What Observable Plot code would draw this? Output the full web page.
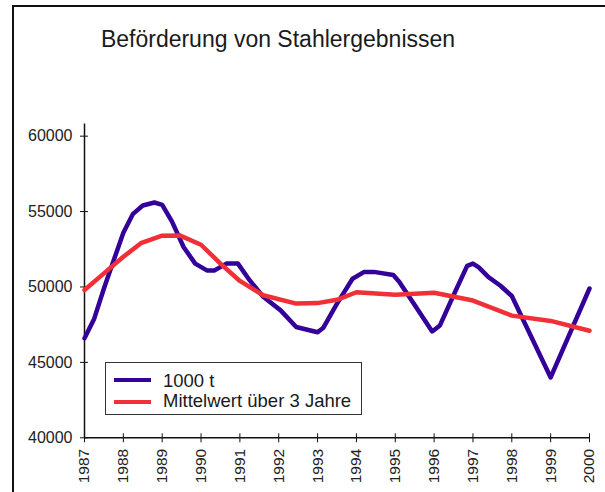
<!DOCTYPE html>
<html>
<head>
<meta charset="utf-8">
<script src="https://cdn.jsdelivr.net/npm/d3@7"></script>
<script src="https://cdn.jsdelivr.net/npm/@observablehq/plot@0.6"></script>
<style>
  html, body { margin: 0; padding: 0; background: #fff; overflow: hidden; }
  #wrap { position: relative; width: 605px; height: 492px; overflow: hidden; font-family: "Liberation Sans", Arial, sans-serif; color: #222; }
  #frame { position: absolute; left: 12px; top: 5px; width: 700px; height: 600px; border-left: 2px solid #111; border-top: 2px solid #111; }
  #title { position: absolute; left: 0; top: 28px; width: 556px; text-align: center; font-size: 23px; line-height: 22px; color: #1a1a1a; }
  #chart { position: absolute; left: 0; top: 0; }
  #legend { position: absolute; left: 105px; top: 362px; width: 255px; height: 51px; border: 1px solid #333; background: #fff; }
  .lg { position: absolute; left: 8px; width: 37px; height: 4px; }
  .lt { position: absolute; left: 57px; font-size: 18.5px; line-height: 18px; color: #1a1a1a; white-space: nowrap; }
</style>
</head>
<body>
<div id="wrap">
  <div id="frame"></div>
  <div id="chart"></div>
  <div id="title">Beförderung von Stahlergebnissen</div>
  <div id="legend"></div>
</div>
<script>
const titleText = "Beförderung von Stahlergebnissen";
const seriesNames = ["1000 t", "Mittelwert über 3 Jahre"];
const seriesColors = ["#330099", "#f03036"];

const xTicks = [1987, 1988, 1989, 1990, 1991, 1992, 1993, 1994, 1995, 1996, 1997, 1998, 1999, 2000];
const yTicks = [40000, 45000, 50000, 55000, 60000];

const tonsX = [1987.00, 1987.25, 1987.50, 1987.75, 1988.00, 1988.25, 1988.50, 1988.80, 1989.00, 1989.25,
               1989.55, 1989.85, 1990.15, 1990.35, 1990.65, 1990.95, 1991.25, 1991.60, 1992.05, 1992.45,
               1993.00, 1993.15, 1993.50, 1993.90, 1994.20, 1994.45, 1994.95, 1995.10, 1995.50, 1995.95,
               1996.15, 1996.50, 1996.85, 1997.00, 1997.15, 1997.40, 1997.70, 1998.00, 1999.00, 2000.00];
const tonsY = [46600, 47900, 49900, 51750, 53600, 54850, 55400, 55600, 55450, 54350,
               52650, 51550, 51100, 51100, 51550, 51550, 50450, 49350, 48450, 47350,
               47000, 47300, 48900, 50550, 51000, 51000, 50800, 50350, 48800, 47050,
               47450, 49450, 51400, 51550, 51300, 50650, 50100, 49400, 44000, 49900];

const avgX = [1987.0, 1987.5, 1988.0, 1988.45, 1989.0, 1989.45, 1990.0, 1990.5, 1991.0, 1991.6,
              1992.45, 1993.0, 1993.5, 1994.0, 1995.0, 1996.0, 1997.0, 1998.0, 1999.0, 2000.0];
const avgY = [49800, 50900, 52000, 52900, 53400, 53420, 52800, 51550, 50400, 49450,
              48900, 48930, 49150, 49650, 49480, 49620, 49100, 48100, 47750, 47100];

const tons = tonsX.map((x, i) => ({x, y: tonsY[i]}));
const avg = avgX.map((x, i) => ({x, y: avgY[i]}));

document.getElementById("title").textContent = titleText;

const plot = Plot.plot({
  width: 605,
  height: 492,
  marginLeft: 84,
  marginRight: 16,
  marginTop: 123.6,
  marginBottom: 54.7,
  style: {fontFamily: "Liberation Sans, Arial, sans-serif", fontSize: "15px", color: "#222", background: "transparent"},
  x: {domain: [1987, 2000], label: null},
  y: {domain: [40000, 60800], label: null},
  marks: [
    Plot.axisY({ticks: yTicks, tickSize: 8, dx: 4, tickPadding: 8, tickFormat: d => String(d), label: null, fontSize: 16, stroke: "#111"}),
    Plot.axisX({ticks: xTicks, tickSize: 9, dy: -4, tickPadding: 6, tickRotate: -90, tickFormat: d => String(d), label: null, fontSize: 15.5, stroke: "#111"}),
    Plot.ruleX([1987], {stroke: "#111", strokeWidth: 1.5}),
    Plot.ruleY([40000], {stroke: "#111", strokeWidth: 1.5}),
    Plot.line(tons, {x: "x", y: "y", stroke: seriesColors[0], strokeWidth: 4.5, curve: "linear", strokeLinejoin: "round"}),
    Plot.line(avg, {x: "x", y: "y", stroke: seriesColors[1], strokeWidth: 4.5, curve: "linear", strokeLinejoin: "round"})
  ]
});
document.getElementById("chart").appendChild(plot);

const legend = document.getElementById("legend");
const sampleTops = [15, 37];
const textTops = [9, 29];
seriesNames.forEach((name, i) => {
  const s = document.createElement("div");
  s.className = "lg";
  s.style.top = sampleTops[i] + "px";
  s.style.background = seriesColors[i];
  legend.appendChild(s);
  const t = document.createElement("div");
  t.className = "lt";
  t.style.top = textTops[i] + "px";
  t.textContent = name;
  legend.appendChild(t);
});
</script>
</body>
</html>
